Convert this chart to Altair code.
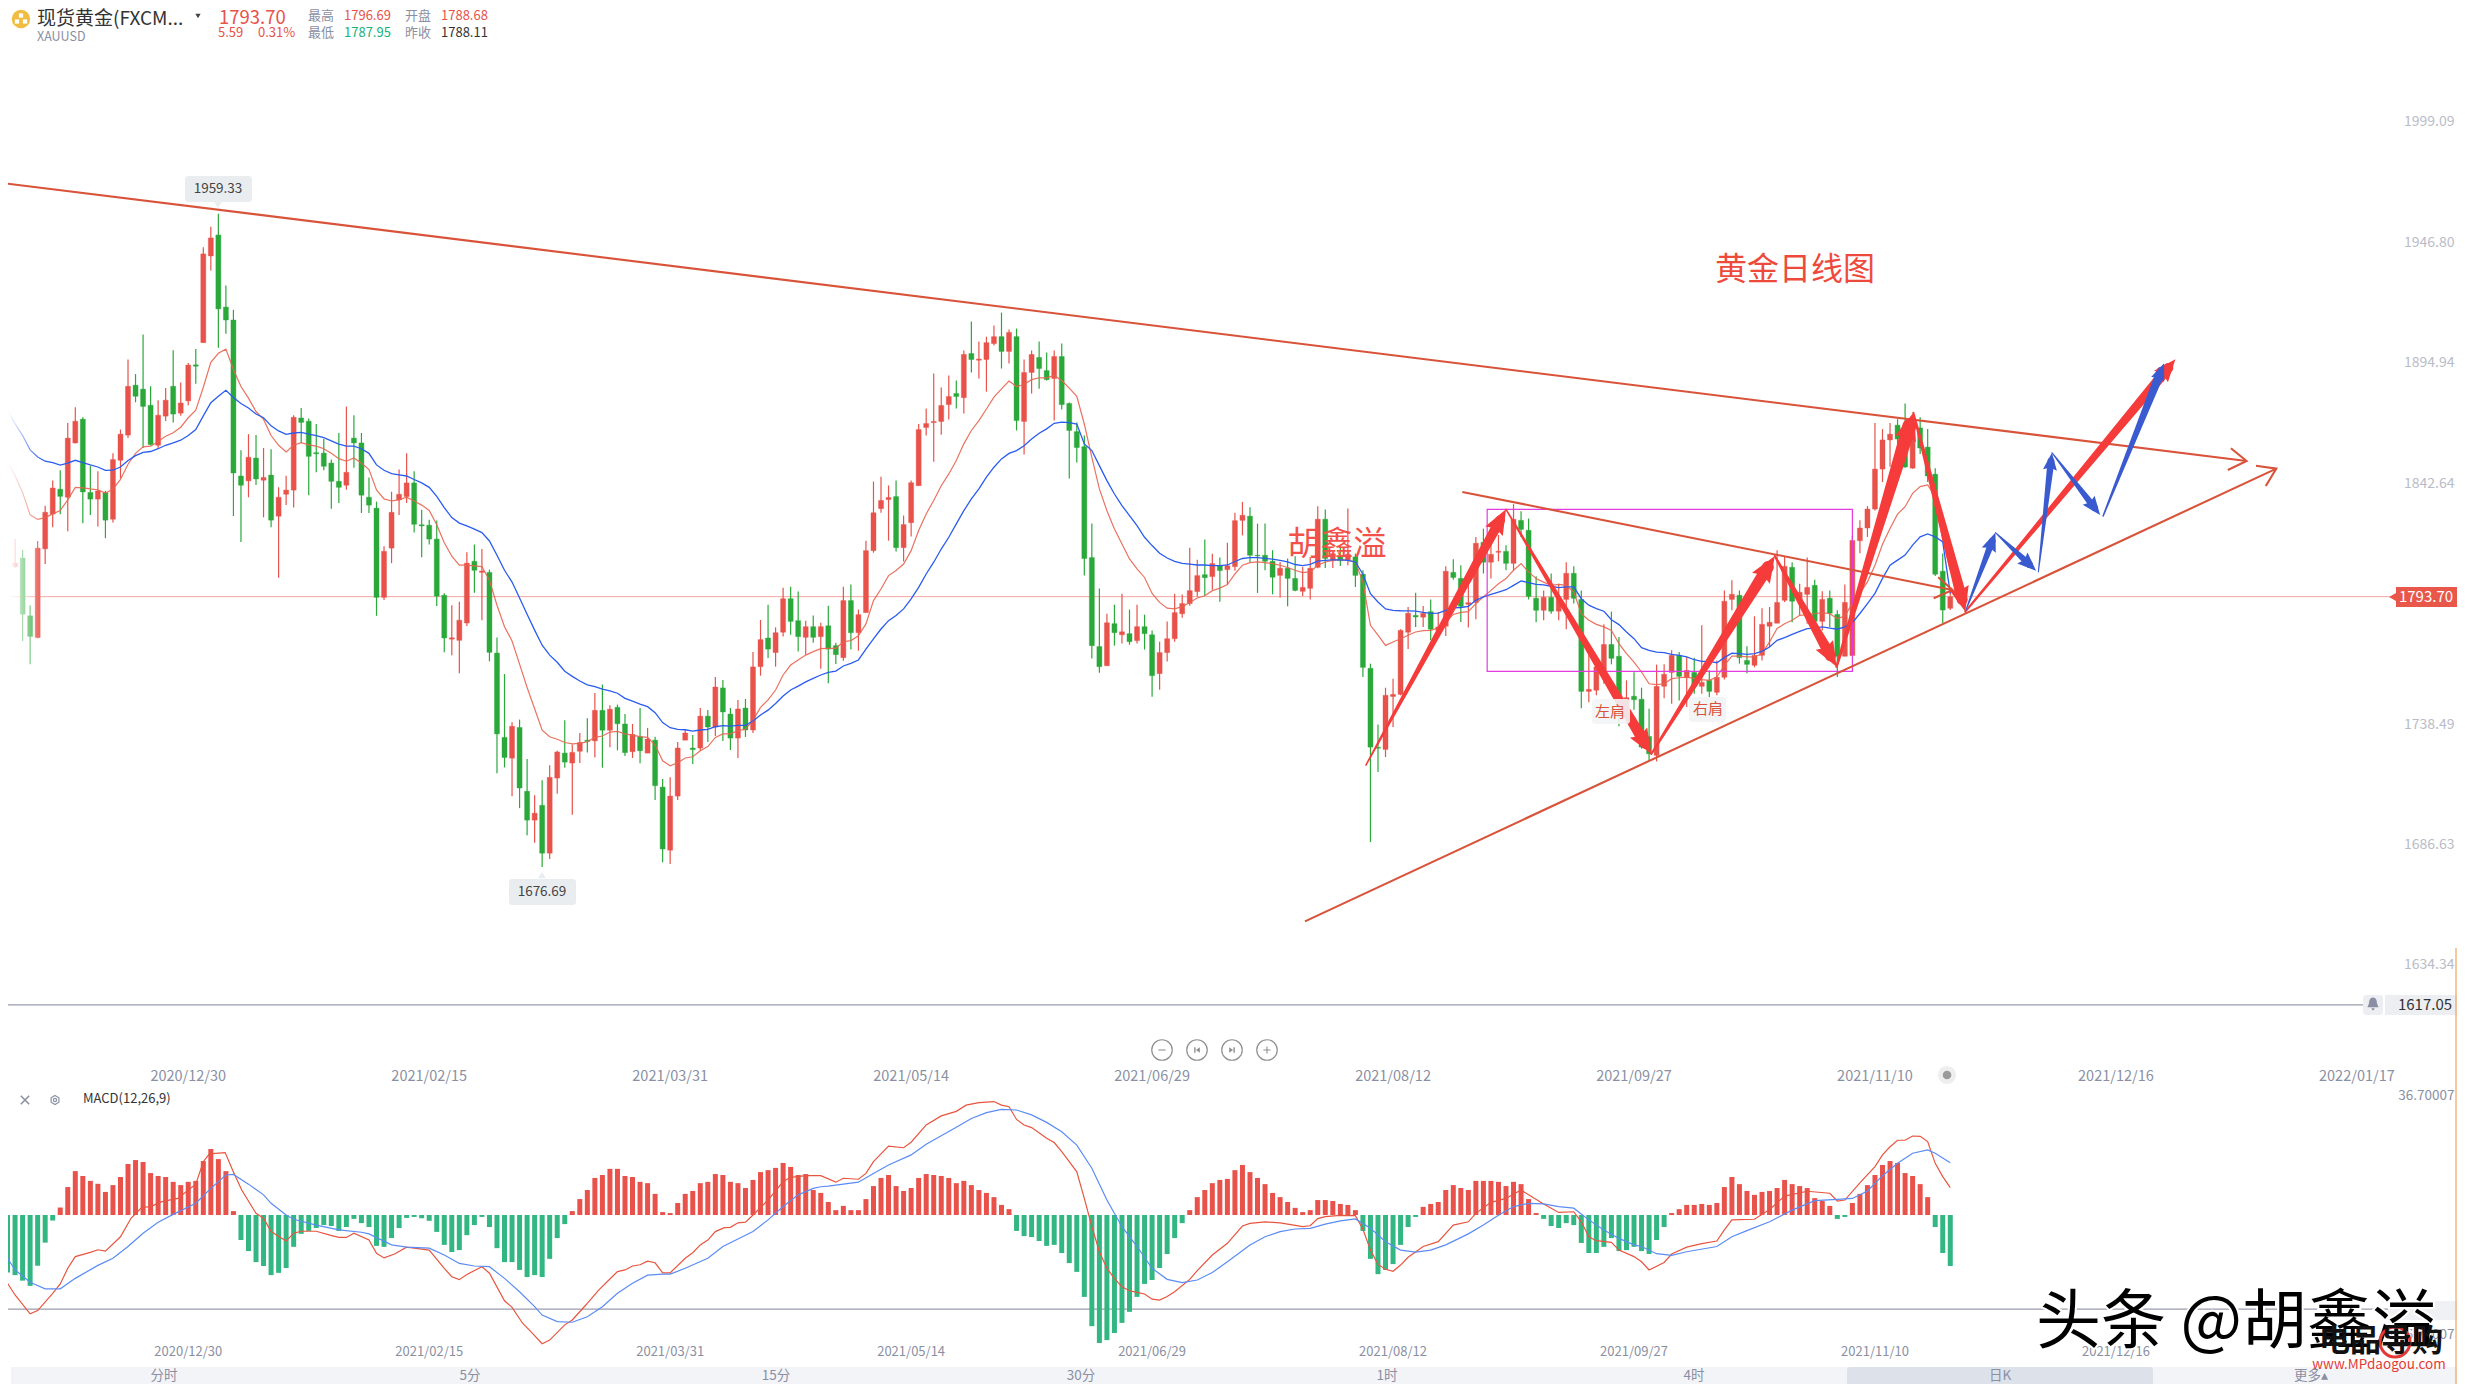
import altair as alt
import pandas as pd
import math

# ---------- candles ----------
direction = ("GGRGGRRRGR" "RGGRGRRRGG" "GRRGRRGRRG" "GGGRGRGRRR" "GGGGGGRGGG" "GRRRRGGGGG" "RRRGRGGGRG"
             "GRGRRGRRGR" "GRGGRGRGGR" "RRGRGRGGRG" "RRGRRGGRGR" "GGRGRRRRRG" "RRRRRRRGRG" "RRRGRGRRGG"
             "RGGGGGGRGR" "GRGGRRRRRR" "GRGRRRGGGG" "RGGRRRGRGR" "GGGGRRRRGR" "GRRGGRRGRR" "GRGGGRGRRG"
             "GRRRGGRGGG" "RRRGRGRGRR" "RGGRRRRRGR" "RGRGGRRRRR" "RRGGRGGGGR")
body_top = [
1836.7,1807.2,1808.2,1810.4,1785.4,1814.7,1830.2,1840.7,1840.2,1862.3,
1869.6,1870.5,1838.8,1839.4,1838.7,1853,1864,1884.7,1885.2,1883.5,
1876.5,1872.2,1878.7,1884.7,1877.5,1893.9,1894.0,1942,1948.9,1950.2,
1919,1913.4,1845.9,1854,1853.7,1845.3,1846.3,1836.7,1839.8,1871.3,
1871,1869.6,1856,1855.8,1851.5,1843.6,1847.5,1862.3,1860.2,1836.7,
1832,1813.3,1830.2,1838,1842.9,1842.9,1824.8,1824.6,1818.6,1794.3,
1775.9,1783.5,1808.2,1809,1804.8,1804.2,1769.3,1732.8,1737.6,1737.1,
1709.5,1700,1703.4,1715.5,1726.5,1726,1726.3,1730.6,1731.6,1744.5,
1744.5,1745,1745.8,1738.6,1734.1,1733.1,1732.1,1731.6,1711.3,1707.4,
1728.2,1734.7,1728.2,1742,1742,1754.6,1754.2,1742.9,1745.1,1745.5,
1763.3,1775.1,1775.8,1778.1,1792.8,1792.8,1783.3,1780.7,1780.7,1780.7,
1781.1,1772.5,1792,1792,1785.9,1813.6,1830,1835.3,1836.6,1837,
1824.9,1843,1866,1868.6,1869.5,1876.4,1880.3,1881.6,1898.5,1898.9,
1896.5,1903.6,1906.2,1906.2,1908,1906.2,1890.7,1898.5,1897.2,1891.5,
1897.6,1897.6,1877.3,1865.1,1858.6,1810.6,1772.1,1782.4,1782,1778.5,
1777.7,1780.7,1780.7,1777.2,1769.5,1775.5,1786.8,1790.7,1796.3,1802.8,
1803.2,1808,1807.1,1807.1,1826.6,1828.9,1828.5,1811.6,1811.6,1809,
1806,1806,1801.6,1797.7,1806,1827.2,1827.2,1812.3,1811.3,1812,
1810.9,1803.4,1762.7,1728.5,1751,1751.4,1779.1,1786.5,1785.6,1786.5,
1787.2,1780.6,1804.7,1804.2,1801.6,1791.1,1816.8,1817.2,1812,1813.3,
1813.3,1827.2,1826.7,1822.4,1793,1793.4,1793.4,1793,1803.8,1803.8,
1792.5,1753.6,1763.3,1773,1773,1767.9,1750,1750.6,1749.3,1733.2,
1754.9,1760.1,1768.3,1768.3,1761.8,1760.9,1756.6,1757.5,1758.8,1791.7,
1794.7,1794.3,1766.1,1768.3,1781.7,1782.6,1791.2,1806.8,1806.4,1795.6,
1797.7,1798.6,1792.5,1793,1786,1791.2,1818,1823.4,1831.6,1848.9,
1861.5,1864,1867.9,1864.4,1866.5,1866.7,1858.4,1846.7,1804.7,1793.7]
body_bottom = [
1807,1806.8,1806.7,1786.1,1776.5,1776,1814.4,1829.4,1837.1,1836.7,
1860.2,1839,1835.9,1835.9,1826.8,1827.2,1852.7,1863.6,1880.4,1876,
1859.5,1859.2,1871.8,1872.7,1873.1,1878.4,1893.4,1903.6,1941.1,1918.2,
1913.4,1847.2,1841.9,1843.8,1844.6,1844.1,1826.8,1828.5,1838,1839.8,
1869.1,1854.4,1855.5,1850.1,1843.6,1841,1841.9,1860.2,1837.6,1833.3,
1793.4,1793.4,1814.7,1835.6,1837,1825,1824.3,1818.6,1793.9,1775.8,
1775.3,1774.8,1782.3,1805.1,1804.2,1769.6,1734.3,1724.1,1723.8,1710.9,
1697,1697,1682.7,1682.7,1715.2,1722.1,1721.7,1726.8,1731,1731.3,
1735.9,1735.9,1738.7,1726.2,1726.6,1727,1726,1711.9,1684.5,1684,
1707.4,1731.6,1727.5,1728.2,1737.3,1737.3,1743.8,1732.5,1732.5,1736,
1736,1763.4,1771,1769.5,1778.3,1783,1776.4,1776.1,1776.1,1776.4,
1771,1768.6,1767.3,1778.1,1778.1,1786.8,1813.6,1831.8,1835.7,1814.9,
1814.9,1825.7,1841.7,1866.9,1869,1869.5,1876.8,1880.3,1879.8,1896.3,
1896,1896.3,1903.2,1899.8,1899.8,1869.9,1869.5,1890.7,1892.4,1887.6,
1888.1,1876.8,1865.6,1858.2,1810.2,1772.5,1763.4,1763.8,1778.1,1777.2,
1774.2,1774.7,1777.7,1759.5,1760.4,1769.5,1775.5,1786.3,1790.7,1795.9,
1801.9,1802.4,1805,1805.4,1806.7,1826.7,1811.6,1811.3,1809,1802.1,
1802.9,1801.6,1796.4,1796,1797.3,1806.4,1810.2,1809.4,1809.3,1809.4,
1802.9,1763.1,1728.6,1728.1,1727.6,1750.5,1751.4,1778.3,1784.9,1784.8,
1779.6,1779.1,1780.9,1802,1789.5,1790.4,1791.2,1808.6,1808.6,1812.9,
1808.1,1808.1,1822.8,1793.8,1787.8,1787.8,1787.4,1787.4,1792.5,1793,
1752.7,1752.7,1753.2,1761.8,1767,1748.8,1743,1749.1,1728.6,1725.7,
1725,1754.9,1760.9,1759.2,1758.6,1754.9,1754.9,1752.7,1752.3,1758.8,
1792.5,1767.3,1764.4,1764,1768.3,1780.9,1782.2,1792.1,1791.7,1792.1,
1794.7,1783,1783,1786.5,1767.9,1767.9,1768.2,1817.9,1823.4,1831.6,
1848.9,1861.5,1861.9,1849.8,1849.3,1858,1845.9,1803.4,1787.9,1788.68]
high = [
1838,1817.8,1818.6,1814,1790,1817.8,1833,1844,1848.4,1868.8,
1875.6,1871.3,1850.3,1848,1839.5,1855.7,1866,1896.3,1890,1907.1,
1884.7,1878.7,1884,1900.3,1886.4,1894.8,1900.8,1944.9,1953.8,1959.33,
1928.3,1917.8,1857,1864,1863.6,1858,1857.5,1841,1846,1872.2,
1875.3,1870.8,1868.4,1861.9,1853,1864.5,1876,1872.2,1864.5,1845.3,
1834.8,1815.5,1839.1,1848.7,1855.7,1848,1831.3,1827,1826.6,1795.2,
1790,1791.5,1812.9,1816.3,1814.3,1805.4,1776,1760.2,1739.3,1740.5,
1723.5,1707.8,1714.3,1720.7,1727,1740.2,1729.7,1734.7,1741.1,1752,
1755.7,1746.7,1747,1742.9,1738.6,1745.5,1736.9,1733.1,1714.8,1715.6,
1730.8,1736,1733.8,1745.5,1744.6,1758.9,1757.6,1745.5,1749,1749.4,
1769.7,1783.6,1790.2,1780.4,1797.6,1798,1795.9,1783.3,1785.5,1782.4,
1789.8,1773.8,1798,1798.9,1788.1,1817.9,1843.5,1845.6,1841.8,1843.9,
1828.8,1843.9,1868.4,1875.1,1890.2,1884.2,1889.4,1887.2,1900.2,1912.7,
1904.1,1906.2,1911,1916.6,1909.3,1909.7,1896.3,1900.2,1904.1,1899.3,
1900.2,1903.2,1877.7,1869,1863.4,1825.3,1797.2,1786.3,1790.2,1795,
1788.1,1790.2,1785.9,1779,1774.2,1782.9,1795,1794.6,1814.9,1809.7,
1818.4,1812.3,1810.6,1817,1830,1834.7,1832.4,1825.3,1825.3,1813.8,
1808.7,1810.2,1811.2,1806.5,1810.9,1832.8,1831.4,1813.8,1816,1831.8,
1812.3,1805.1,1764.7,1738.4,1754.3,1758.2,1779.6,1789.2,1795.4,1789.7,
1792.5,1787,1806.8,1809.9,1807.3,1802.2,1819.5,1823.1,1820.3,1820.4,
1815.9,1833.7,1830.6,1827.5,1802.5,1796.4,1803.7,1799.3,1808.6,1806.8,
1796.4,1768.3,1766.9,1781.7,1787.2,1776.2,1757.5,1761,1754.3,1745.2,
1764.3,1764.4,1770.5,1769.7,1767.6,1767.3,1781.3,1761.8,1766.1,1796.4,
1800.8,1796.4,1772.2,1785.2,1788.7,1789.2,1813.8,1810.9,1808.6,1799.3,
1810.6,1801,1796,1796.4,1787.8,1799,1820,1826.8,1832.9,1868.8,
1866.2,1868.8,1870.5,1877.3,1872,1871.3,1866.2,1849.3,1812.4,1796.69]
low = [
1805,1802,1806.2,1774.5,1764.5,1775.7,1807.8,1823.7,1829.4,1822,
1860,1825.5,1829,1824,1819,1825.8,1844.9,1862.3,1877.8,1858,
1859.2,1857.7,1869.7,1869.1,1872,1876.5,1885.8,1903.4,1934.8,1901.4,
1907.4,1828.6,1817.3,1836.7,1842,1828,1823.7,1801.9,1833.3,1832.3,
1860.3,1837.6,1847.5,1848.4,1831.7,1834.2,1840,1849.5,1829.9,1829.9,
1785.4,1792.3,1808.2,1829,1834.2,1821.5,1810.7,1816.3,1789.7,1769.6,
1768.3,1760.6,1781,1795.4,1783.5,1765.7,1717.3,1719.8,1707.3,1702.2,
1690.5,1687.2,1676.7,1680.2,1708.4,1719.7,1699.3,1721.7,1726.3,1724.1,
1719.7,1728.5,1727.2,1724.7,1723.9,1721.6,1726,1705.7,1678.8,1678,
1705.7,1731.6,1721.3,1726.9,1730.8,1733.4,1731.2,1727.3,1723.9,1733,
1734.7,1759.5,1767.2,1763.4,1776.4,1777.2,1770,1768.6,1773.8,1762.5,
1756.2,1764.6,1766,1770.8,1770.3,1786.8,1812.7,1830,1817.9,1813.2,
1808.9,1819.7,1841.7,1863.4,1852.1,1863.8,1870.3,1875.1,1872.9,1890.7,
1888.1,1882.4,1902.4,1892.4,1894.6,1865.6,1855.2,1881.6,1883.7,1887.2,
1869.9,1874.7,1844.8,1851.7,1802.8,1766.9,1760.8,1763.8,1772.5,1773.4,
1772.9,1773.4,1770.8,1750.4,1753.4,1765.6,1774.2,1784.6,1789.8,1793.7,
1794.1,1796.7,1791.5,1798.9,1804.9,1820.2,1808.7,1795.3,1805.1,1794.7,
1793.3,1789.5,1796,1794,1792.5,1806,1806.1,1806.1,1807,1807.3,
1797.9,1758.9,1687.5,1717.8,1724.3,1737.3,1751,1771,1780.6,1780.6,
1774.8,1776,1776.7,1801,1782.7,1780.3,1783.9,1803.7,1801.5,1809,
1805.1,1805.1,1819.5,1792.5,1782.6,1783.5,1786.3,1783.5,1779.6,1790.7,
1745.4,1748,1751,1756,1764.4,1737.6,1742,1744.8,1727.9,1722.6,
1722.4,1749.7,1747.4,1748.8,1745.9,1751.7,1751.7,1750.3,1751,1757.9,
1787.8,1764.7,1760.5,1763.1,1766.1,1771.9,1782.2,1791.4,1782.6,1785.6,
1782,1780.6,1779.1,1780.6,1758.9,1767.9,1768,1812.5,1819.5,1831,
1843.3,1849.9,1857.1,1849.5,1849,1855.4,1843.3,1802.6,1782.2,1787.95]

# ---------- moving averages ----------
ma_red = [
1863.9,1852,1846,1838.7,1829.1,1827.1,1827.9,1829.5,1831,1835.6,
1841,1840.8,1840.3,1839.9,1838.5,1840.2,1844.4,1851,1855.7,1858.5,
1858.8,1860.8,1863.1,1864.6,1867,1871.1,1874.4,1884.3,1895.1,1899,
1900.8,1892,1884.6,1879.6,1873.8,1870.4,1863.4,1859.2,1856.3,1859.2,
1860.3,1859.4,1858.8,1857.7,1855.7,1853.4,1852.3,1853.7,1851.5,1848.7,
1839.9,1836,1835.1,1835.6,1836.7,1835.1,1833.3,1831,1824.8,1817,
1811.2,1807.3,1807.3,1807,1806.7,1800.8,1790,1780.7,1774.5,1764.5,
1754.4,1745.2,1735.9,1733.1,1732,1730.6,1730,1730.2,1730.9,1732.8,
1733.4,1735.1,1735.4,1734.3,1733.8,1733.1,1732.8,1729.5,1722.7,1720.5,
1721.8,1723.9,1724.4,1727,1728.8,1732.8,1734.3,1734.3,1735.7,1736.3,
1740.3,1745.8,1749,1753.3,1759.8,1764.1,1766.3,1768.4,1769.9,1771.2,
1771.3,1771.3,1774.2,1774.7,1776.8,1781.9,1792,1797,1802.8,1805,
1807.8,1813.6,1822.3,1829.5,1835.3,1841.7,1846.8,1852.6,1859.8,1865.6,
1869.9,1874.9,1880,1883.6,1887,1884.6,1885.5,1887.6,1888.4,1888.4,
1889.4,1887.2,1883.9,1880.4,1868.4,1854,1840.3,1830.9,1823,1816.5,
1810,1805.7,1802,1795.1,1791.2,1788.7,1788.4,1789.4,1791.2,1793.1,
1794.1,1796.3,1797.4,1798.9,1803.5,1807.3,1808.4,1808.7,1808.4,1808,
1807.3,1806.3,1805.1,1804.1,1804.4,1807.3,1808.7,1809.4,1809.7,1809.4,
1808.7,1800,1781.3,1777,1772.6,1774.1,1775.5,1777,1778.4,1779,
1779.1,1780.1,1782.7,1786,1786.9,1787.2,1790.7,1793.6,1796.4,1799.3,
1801.5,1805.1,1808,1804.4,1801.5,1800,1798.6,1799,1798.6,1795.7,
1786.3,1783.5,1781.7,1780.6,1779.1,1773.4,1769,1765.4,1761.1,1756,
1755.6,1756,1758.2,1758.6,1758.9,1758.3,1757.8,1757.5,1758.9,1764,
1768,1768,1767.6,1767.6,1769,1774.1,1779.9,1782,1783.5,1785.6,
1785.9,1786.3,1786.8,1786.3,1784.2,1785.3,1790.8,1795.1,1800.1,1807.3,
1816.4,1823.2,1829.4,1832.6,1838.4,1841.3,1842,1836.9,1818,1805]
ma_blue = [
1879.9,1874.2,1868.5,1863.4,1857.2,1854.1,1852.3,1851.7,1850.6,1851.5,
1852.7,1851.7,1850.7,1849.8,1848.3,1848.4,1849.8,1852.6,1854.7,1856.1,
1856.5,1857.7,1859.2,1860.2,1861.4,1863.4,1866,1871.9,1877.6,1880.4,
1883,1879.9,1877.3,1875.3,1872.7,1871.1,1867.6,1865.4,1863.9,1864.5,
1864.8,1864,1863.4,1862.5,1861.1,1859.7,1858.8,1858.8,1857.7,1855.7,
1850.7,1848.4,1846.9,1846.4,1845.9,1844.4,1842.9,1841,1837.1,1832.2,
1827.9,1825.5,1824.3,1822.9,1821.4,1817.8,1811.6,1805.1,1800,1793.1,
1786.1,1779.2,1772.7,1768.4,1765.3,1761.4,1759.2,1757.2,1755.5,1754.8,
1753.7,1752.9,1751.9,1749.7,1748.5,1747.2,1746.1,1743.5,1739.2,1737,
1736.3,1736.1,1735.5,1736,1736.3,1737.4,1737.9,1737.7,1738,1738,
1739.9,1742.5,1744.6,1747.5,1750.7,1753.3,1755,1756.8,1758.3,1759.8,
1760.9,1761.5,1763.7,1764.8,1766.3,1771,1775.4,1779.7,1783.3,1785.5,
1788.4,1792.7,1797.7,1803.5,1808.6,1814.3,1819.4,1825.2,1830.9,1836,
1840.3,1845.4,1849.7,1853.3,1855.7,1856.9,1859,1861.9,1864.4,1866.3,
1868.7,1869.2,1869,1868.4,1859.8,1856.9,1850.4,1843.9,1838.1,1833.1,
1828.8,1824.4,1819.4,1815.8,1812.5,1810.4,1809,1808.1,1807.8,1807.4,
1807.4,1807.1,1807.1,1807.4,1808.9,1810.2,1810.6,1810.6,1810.3,1809.9,
1809.4,1808.7,1807.6,1807.1,1807.7,1809.1,1809.4,1809.6,1809.6,1809.4,
1808.7,1803.4,1795,1791.4,1788.4,1787.8,1787.6,1787.5,1787.4,1786.9,
1786.5,1786.6,1787.8,1788.9,1789,1789.5,1792.1,1793.6,1794.7,1795.7,
1796.7,1798.6,1800.5,1799.8,1799,1798.8,1798.2,1797.6,1797.9,1797.9,
1792.8,1790,1788.5,1787.4,1783.7,1781.6,1778.4,1775.5,1771.6,1770.5,
1769.7,1769.5,1768.7,1768.3,1767.6,1766.4,1765.7,1765.7,1765.1,1767.3,
1769.2,1769,1768.7,1769,1770,1771.9,1774.8,1776,1777.4,1778.7,
1779.9,1780.1,1780.6,1780.1,1779.6,1780.6,1782.4,1786.4,1790.7,1795.1,
1801.6,1807.3,1809.5,1811.7,1816,1819.6,1820.8,1819.6,1817.4,1795.1]

# ---------- MACD ----------
macd_hist = [
-14.9,-17.7,-18.5,-20.2,-21.8,-15.6,-8.5,-1.7,2.3,8.6,
13.5,12,10.5,9.6,7.1,9.2,11.7,15.7,16.9,16.3,
12.9,12,11.7,10.2,9.2,10.2,10.5,16.6,20.3,17.2,
13.5,1.2,-7.7,-11.1,-14.5,-15.7,-18.5,-17.8,-16.3,-9.8,
-5.8,-4.9,-4,-3.1,-3.4,-4.9,-3.7,-1.2,-2.5,-3.7,
-9.5,-9.8,-7.1,-4,-0.9,-0.6,-1,-1.8,-5.2,-9.2,
-11.4,-10.8,-6.2,-3.1,-0.6,-3.7,-10.2,-14.5,-14.5,-16.9,
-19.1,-18.5,-19.1,-13.5,-7.1,-2.8,1.2,4.9,7.7,11.4,
12.3,14.2,14.2,12,11.7,10.2,9.8,6.5,0.9,0.6,
3.7,6.5,7.4,9.8,10.2,12.6,12.3,10.2,9.8,8.3,
10.8,13.2,13.8,14.5,16,14.8,12.3,12.6,7.7,6.8,
4,1.5,2.8,1.5,1.5,4.9,8.9,11.4,12.3,8.9,
7.4,8.3,11.4,12.6,12.3,12,11.4,9.8,10.5,9.2,
7.7,6.8,5.5,3.1,1.8,-4.9,-6.5,-6.8,-8,-9.5,
-9.2,-11.7,-14.8,-17.5,-25.2,-34.2,-39.4,-38.5,-36.3,-33.2,
-29.8,-25.2,-21.2,-20,-16.3,-12,-7.1,-2.5,1.5,5.5,
7.7,9.8,10.8,11.1,13.8,15.4,13.2,11.4,9.5,6.8,
5.5,4,2.2,0.9,1.5,4.6,4.6,4.3,3.4,3.1,
1.5,-4.9,-13.5,-18.2,-16.9,-15.1,-9.2,-3.7,-0.6,2.5,
3.4,4,7.7,9.2,8.3,7.7,10.5,10.5,10.5,10.2,
8.9,10.2,9.5,4.9,0.6,-1.2,-3.4,-4,-2.5,-3.1,
-8.6,-11.7,-11.7,-9.8,-7.1,-11.1,-10.8,-9.8,-11.1,-12,
-7.7,-3.7,0.6,1.8,3.1,3.1,3.4,3.1,3.7,8.6,
11.7,9.5,7.4,6.2,7.1,7.4,8.3,10.8,9.5,8.9,
8.3,5.2,4.3,2.8,-1.2,-0.6,3.7,6.5,9.2,12.3,
15.4,16.6,16,12.9,12,9.5,5.5,-3.7,-11.7,-15.7]
dif_i = [0,1,2,4,5,7,8,9,10,12,13,14,16,17.4,18.8,20,21.5,23.6,26,27,27.8,29.9,30.9,32.1,34,35,36,38,39,40,42,43.8,45,46,47,49,50,51,52.4,54,57,59,60,61,62,64,65,67,68,69.4,70.5,72,73,75,76,77.8,79.5,81.3,82,83,84,85,86,87,88,89,91,92,93,94,95,96.2,97,98,99,100,102,104,105,107,109,
         111,112,114,115,116,118,120,121,123,125,127,128.3,130,132,133,134,135,136,137,139,140,141,142,143,144,145,146,147,148,149,150,151,152,153,154,155,156,158,159,161,163,165,166,168,170,171,173,174,175,176,178,180,181,182,183,184,185,186,187,189,191,193,195,196,198,200,202,203,205,207,209,210,211,212,214,215,217,
         218,219,221,222,224,226,228,229,230,233,235,237,240,243,244,245,247,249,250,251,252,253,254,255,256,257,258,259]
dif_v = [-17.4,-21,-24.6,-30.4,-29.4,-24.1,-21.2,-16.4,-12.8,-11.5,-10.7,-11.1,-6.7,-1,2.3,2.6,4.1,5.1,9.5,16.4,18.8,19.2,13.8,7.7,0.5,-1,-5.1,-8,-5.6,-5,-5,-6.2,-6.9,-6.9,-5.6,-7.7,-11.8,-13.2,-12,-9.9,-10.8,-16.4,-19,-19.9,-18.3,-15.9,-17.9,-26.4,-28.4,-33.3,-35.9,-39.6,-38.5,-33.8,-32.3,-27.7,-23.1,-19,-17.4,-16.9,-15.7,-15.3,-14.2,-14.7,-17.8,-17.8,-13.3,-11.6,-9.2,-7.7,-5.1,-3.9,-3.8,-2.4,-2.2,0,4.6,10.3,11.6,12.1,12.1,
         10.1,11.3,11,12.8,16.4,21.2,20.7,22.4,27.7,30.5,31.9,33.8,34.6,34.9,33.8,33.3,29.4,27.7,26.9,23.6,22.3,19.5,16.4,13.3,5.1,-3.6,-11.3,-16.4,-19.5,-22.1,-23.3,-23.8,-24.3,-25.9,-26.2,-25.1,-23.6,-19.8,-17.1,-12.3,-8.7,-3.4,-2.6,-2.1,-2.4,-2.8,-3.6,-3.3,-1.1,-0.5,-0.1,-0.2,-4.4,-10.8,-15.2,-16.7,-17.3,-15.4,-13,-9.7,-8.2,-3.1,-2.1,0.5,3.9,5.1,7.7,6.2,3.4,0.8,1,-2.1,-6.7,-7.9,-8.4,-10.8,-12.8,
         -14.4,-16.9,-14.6,-12,-9.9,-8.8,-8,-4.6,-1.5,-1.3,1.7,5.8,7.3,6.7,4.3,4.6,9.9,14.9,18.5,21,23,23,24.3,24.2,22.6,15.9,11.8,8.4]
dea_i = [0,1,2,4,6,8,10,13,15,17,19,21,23,26,28,30,31,33,35,36,38,39,42,45,48,49,52,54,57,59,61,63,65,67,69,71,72,74,76,78,80,82,84,86,88,89,91,94,96,100,102,104,106,108,109,
         110,112,114,116,118,121,123,125,127,129,131,133,135,137,139,141,143,145,147,149,151,153,155,157,159,161,163,166,168,170,172,174,176,178,180,182,184,186,188,190,192,195,197,199,201,203,205,207,209,211,213,215,217,
         218,220,222,224,228,230,232,235,238,241,244,246,248,250,252,254,256,257,259]
dea_v = [-10.3,-13.3,-16.9,-20.7,-22.7,-22.7,-19.5,-15.5,-13.3,-9.7,-5.6,-2.2,0.2,3.6,8.2,12.3,12.5,9.5,6.2,3.6,0,-1.3,-3.1,-4.6,-5.3,-5.8,-9.2,-9.9,-10.2,-12.3,-14.9,-15.7,-15.9,-19.5,-23.6,-28.2,-30.8,-32.8,-33,-31.3,-28.2,-24.1,-21,-18.5,-18.2,-18.2,-16.4,-13.3,-9.7,-5.1,-1.5,2.6,6.2,8.2,8.7,
         8.9,9.5,10.1,12.8,15.4,18.5,21.8,24.4,27,29.7,31.5,32.5,32.3,30.8,28.5,25.6,21.5,14.4,4.6,-3.6,-9.7,-16.4,-19.8,-20.8,-20,-17.7,-14.4,-9.2,-6.7,-5.1,-4.3,-4.1,-2.8,-1.8,-1.2,-4.1,-8.2,-10.8,-11.4,-10.8,-9.2,-5.8,-3.1,-0.1,2.6,3.6,3.4,2.6,2.1,-1.5,-4.6,-7.2,-9.2,
         -9.7,-11.9,-12.4,-11.3,-9.7,-6.7,-4.8,-2.1,1.5,4.4,4.8,5.1,7.4,12.1,15.9,19,20,19,16.1]

# ---------- axis and date labels ----------
price_ticks = [1999.09, 1946.80, 1894.94, 1842.64, 1738.49, 1686.63, 1634.34]
macd_ticks = [36.70007, -28.98955, -36.70007]
date_i = [25, 57, 89, 121, 153, 185, 217, 249, 281, 313]
date_top = ["2020/12/30","2021/02/15","2021/03/31","2021/05/14","2021/06/29","2021/08/12","2021/09/27","2021/11/10","2021/12/16","2022/01/17"]
date_low = date_top[:9]

# ---------- drawn annotations (bar index, price) ----------
line_id = ["a"]*2 + ["ah"]*3 + ["b"]*2 + ["bh"]*3 + ["c"]*2 + ["ch"]*3
line_i = [0, 298.35, 296.27, 298.35, 295.86, 173.3, 302.3, 299.6, 302.3, 300.9, 194.2, 259.3, 257.4, 259.3, 256.8]
line_p = [1972.8, 1852.4, 1857.9, 1852.4, 1848.5, 1653.2, 1849.1, 1850.3, 1849.1, 1841.6, 1839, 1796.6, 1802.1, 1796.6, 1793]
red_path_i = [181.4, 200, 219.3, 235.7, 243.9, 254.1, 261, 288.9]
red_path_p = [1720.8, 1831.5, 1725.6, 1811.3, 1763.4, 1873.3, 1787.2, 1896.4]
blue_from_i = [261, 265, 270.7, 272.5, 279.3]
blue_from_p = [1787.2, 1821.4, 1804.4, 1856, 1828.6]
blue_to_i = [265, 270.4, 272.5, 278.9, 287.4]
blue_to_p = [1821.4, 1804.9, 1856, 1829, 1894.7]
box_i = [197.5, 246]
box_p = [1761.4, 1831.5]
last_price = 1793.70
bottom_price = 1617.05

# ---------- frame ----------
FONT = "Noto Sans CJK SC"
W, H = 2449, 1376
GRAY = "#8a8fa3"
UP, DOWN = "#e8524a", "#2aa83a"
PX_I, PX_P = 7.53, 2.311
x_scale = alt.Scale(domain=[8 / PX_I, (W + 8) / PX_I], range=[0, W], nice=False, zero=False, padding=0)
py_scale = alt.Scale(domain=[1617.05, 2048.4], range=[996.9, 0], nice=False, zero=False, padding=0)
my_scale = alt.Scale(domain=[-50, 50], range=[1369.5, 1044.5], nice=False, zero=False, padding=0)
X = alt.X("i:Q", scale=x_scale, axis=None, title=None)
X2 = alt.X2("i2:Q")


def PY(f, axis=None):
    return alt.Y(f, type="quantitative", scale=py_scale, axis=axis, title=None)


def MY(f, axis=None):
    return alt.Y(f, type="quantitative", scale=my_scale, axis=axis, title=None)


one = pd.DataFrame({"t": [0]})


def rect(x1, y1, x2, y2, fill, radius=0, opacity=1):
    return alt.Chart(one).mark_rect(color=fill, cornerRadius=radius, opacity=opacity).encode(
        x=alt.value(x1 - 8), x2=alt.value(x2 - 8), y=alt.value(y1 - 8), y2=alt.value(y2 - 8))


def label(s, x, y, size, color, align="left", weight="normal", **kw):
    return alt.Chart(pd.DataFrame({"t": [s]})).mark_text(
        font=FONT, fontSize=size, color=color, align=align, baseline="middle", fontWeight=weight, **kw
    ).encode(x=alt.value(x - 8), y=alt.value(y - 8), text="t:N")


def sym(x, y, shape, size, fill=None, stroke=None, sw=1):
    args = dict(shape=shape, size=size, opacity=1)
    if fill:
        args.update(filled=True, color=fill)
    else:
        args.update(filled=False, color=stroke, strokeWidth=sw)
    return alt.Chart(one).mark_point(**args).encode(x=alt.value(x - 8), y=alt.value(y - 8))


# ---------- tables ----------
idx = list(range(len(high)))
candles = pd.DataFrame({"i": idx, "top": body_top, "bot": body_bottom, "high": high, "low": low, "d": list(direction)})
up = candles[candles.d == "R"]
down = candles[candles.d == "G"]
mas = pd.DataFrame({"i": idx, "r": ma_red, "b": ma_blue})
hist = pd.DataFrame({"i": idx, "v": macd_hist})

price_axis = alt.Axis(values=price_ticks, format=".2f", orient="right", domain=False, ticks=False, grid=False,
                      labelAlign="right", labelPadding=-3, labelFontSize=14, labelColor="#b9bcc8", labelFont=FONT,
                      labelOverlap=False, labelFlush=False, title=None)
macd_axis = alt.Axis(values=macd_ticks, format=".5f", orient="right", domain=False, ticks=False, grid=False,
                     labelAlign="right", labelPadding=-3, labelFontSize=13.5, labelColor=GRAY, labelFont=FONT,
                     labelOverlap=False, labelFlush=False, title=None)

layers = []
layers.append(rect(2388, 1301, 2462, 1320, "#f0f1f4"))
layers.append(alt.Chart(pd.DataFrame({"p": [-28.98955]})).mark_rule(color="#9a9cab", strokeWidth=1.2).encode(
    y=MY("p"), x=alt.value(0), x2=alt.value(2380)))

# candles
layers.append(alt.Chart(pd.DataFrame({"p": [last_price]})).mark_rule(color="#f5a6a0", strokeWidth=1).encode(
    y=PY("p"), x=alt.value(0), x2=alt.value(2385)))
layers.append(alt.Chart(pd.DataFrame({"p": [bottom_price]})).mark_rule(color="#9a9cab", strokeWidth=1.2).encode(
    y=PY("p"), x=alt.value(0), x2=alt.value(2356)))
for df, col in ((up, UP), (down, DOWN)):
    layers.append(alt.Chart(df).mark_rule(color=col, strokeWidth=1.2).encode(
        x=X, y=PY("low", price_axis if col == UP else None), y2="high:Q"))
    layers.append(alt.Chart(df).mark_bar(size=5, color=col, orient="vertical", stroke=col, strokeWidth=0.4).encode(
        x=X, y=PY("top"), y2="bot:Q"))
layers.append(alt.Chart(mas).mark_line(color="#e8634e", strokeWidth=1.2, opacity=0.9).encode(x=X, y=PY("r")))
layers.append(alt.Chart(mas).mark_line(color="#2a5cf0", strokeWidth=1.3).encode(x=X, y=PY("b")))

# left fade
fade = alt.Gradient(gradient="linear", x1=0, x2=1, y1=0, y2=0,
                    stops=[alt.GradientStop(color="#ffffff", offset=0),
                           alt.GradientStop(color="rgba(255,255,255,0)", offset=1)])
layers.append(alt.Chart(one).mark_rect(color=fade).encode(
    x=alt.value(0), x2=alt.value(36), y=alt.value(200), y2=alt.value(990)))

# macd
layers.append(alt.Chart(hist[hist.v >= 0]).mark_bar(size=5, color="#e8524a", orient="vertical").encode(
    x=X, y=MY("v", macd_axis), y2=alt.datum(0)))
layers.append(alt.Chart(hist[hist.v < 0]).mark_bar(size=5, color="#33b782", orient="vertical").encode(
    x=X, y=MY("v"), y2=alt.datum(0)))
layers.append(alt.Chart(pd.DataFrame({"i": dif_i, "v": dif_v})).mark_line(color="#e8553f", strokeWidth=1.2).encode(x=X, y=MY("v")))
layers.append(alt.Chart(pd.DataFrame({"i": dea_i, "v": dea_v})).mark_line(color="#5b8cf5", strokeWidth=1.2).encode(x=X, y=MY("v")))

# drawn box, trend lines
box = pd.DataFrame({"i": [box_i[0]], "i2": [box_i[1]], "p": [box_p[0]], "p2": [box_p[1]]})
layers.append(alt.Chart(box).mark_rect(fill=None, stroke="#e23be0", strokeWidth=1.2).encode(x=X, x2=X2, y=PY("p"), y2="p2:Q"))
lines = pd.DataFrame({"i": line_i, "p": line_p, "id": line_id, "o": range(len(line_i))})
layers.append(alt.Chart(lines).mark_line(color="#d9533a", strokeWidth=2.1).encode(
    x=X, y=PY("p"), detail="id:N", order="o:Q"))


# tapered arrows: a trail for the shaft and a rotated symbol for the head
HEAD = "M0,-1 L-0.8,1 L0,0.72 L0.8,1 Z"


def arrow(tag, a, b, w0, w1, head_w, color):
    dx, dy = (b[0] - a[0]) * PX_I, (b[1] - a[1]) * PX_P
    length = math.hypot(dx, dy)
    half = head_w * 0.625
    fr = 1 - half / length
    mx, my = a[0] + (b[0] - a[0]) * fr, a[1] + (b[1] - a[1]) * fr
    shaft = [dict(id=tag, o=0, i=a[0], p=a[1], s=w0, c=color), dict(id=tag, o=1, i=mx, p=my, s=w1, c=color)]
    tip = dict(i=mx, p=my, s=(2 * half) ** 2, ang=math.degrees(math.atan2(dx, dy)), c=color)
    return shaft, tip


shafts, tips = [], []
red_w = [(1.5, 10, 20), (1.5, 11, 20), (2, 12, 21), (2, 11, 20), (2.5, 14, 22), (2, 11, 20), (2, 10, 18)]
for k in range(7):
    s, t = arrow("r%d" % k, (red_path_i[k], red_path_p[k]), (red_path_i[k + 1], red_path_p[k + 1]), *red_w[k], "#f63b3b")
    shafts += s
    tips.append(t)
blue_w = [(1, 7, 15), (1, 7, 15), (1, 7, 14), (1, 7, 15), (1.5, 9, 14)]
for k in range(5):
    s, t = arrow("b%d" % k, (blue_from_i[k], blue_from_p[k]), (blue_to_i[k], blue_to_p[k]), *blue_w[k], "#3a5bd0")
    shafts += s
    tips.append(t)
layers.append(alt.Chart(pd.DataFrame(shafts)).mark_trail().encode(
    x=X, y=PY("p"), detail="id:N", order="o:Q",
    size=alt.Size("s:Q", scale=None, legend=None),
    color=alt.Color("c:N", scale=None, legend=None)))
layers.append(alt.Chart(pd.DataFrame(tips)).mark_point(shape=HEAD, filled=True, opacity=1).encode(
    x=X, y=PY("p"),
    size=alt.Size("s:Q", scale=None, legend=None),
    angle=alt.Angle("ang:Q", scale=None),
    color=alt.Color("c:N", scale=None, legend=None)))

# date rows
layers.append(alt.Chart(pd.DataFrame({"i": date_i, "t": date_top})).mark_text(
    font=FONT, fontSize=14.5, color=GRAY, baseline="middle").encode(x=X, y=alt.value(1077 - 8), text="t:N"))
layers.append(alt.Chart(pd.DataFrame({"i": date_i[:9], "t": date_low})).mark_text(
    font=FONT, fontSize=13, color=GRAY, baseline="middle").encode(x=X, y=alt.value(1352 - 8), text="t:N"))

# texts on the chart
layers.append(label("黄金日线图", 1795, 270, 32, "#ee4a3c", "center"))
layers.append(label("胡鑫溢", 1337, 545, 33, "#f4504a", "center"))
layers.append(rect(1592, 699, 1630, 724, "#f3f4f6", 3, 0.9))
layers.append(label("左肩", 1610, 712, 15, "#d9533a", "center"))
layers.append(rect(1689, 697, 1726, 722, "#f3f4f6", 3))
layers.append(label("右肩", 1708, 709, 15, "#d9533a", "center"))

# price tags
layers.append(rect(185, 176, 252, 202, "#eaedf0", 3))
layers.append(sym(218, 205, "triangle-down", 55, "#eaedf0"))
layers.append(label("1959.33", 218, 189, 13.5, "#444", "center"))
layers.append(rect(509, 879, 576, 905, "#eaedf0", 3))
layers.append(sym(542, 875, "triangle-up", 60, "#eaedf0"))
layers.append(label("1676.69", 542, 892, 13.5, "#444", "center"))
layers.append(rect(2396, 587, 2462, 607, "#e8574a"))
layers.append(sym(2394, 597, "triangle-left", 130, "#e8574a"))
layers.append(label("1793.70", 2426, 597, 15, "white", "center"))

# bell and floor value
layers.append(rect(2363, 995, 2383, 1015, "#eceef2", 3))
layers.append(sym(2373, 1004, "M0,-1 C-0.5,-1 -0.6,-0.5 -0.6,-0.1 L-0.85,0.5 L0.85,0.5 L0.6,-0.1 C0.6,-0.5 0.5,-1 0,-1 Z M-0.25,0.65 L0.25,0.65 L0.1,0.95 L-0.1,0.95 Z", 170, "#8a8fa3"))
layers.append(rect(2385, 995, 2462, 1015, "#eceef2"))
layers.append(label("1617.05", 2425, 1004.5, 15, "#333", "center"))

# header
layers.append(sym(21, 19, "circle", 340, "#f0bd42"))
for cx, cy in ((21, 15.5), (17, 21.5), (25, 21.5)):
    layers.append(sym(cx, cy, "square", 18, "white"))
layers.append(label("现货黄金(FXCM...", 37, 19, 19, "#333"))
layers.append(sym(198, 16, "triangle-down", 28, "#444"))
layers.append(label("XAUUSD", 37, 37, 12.5, GRAY))
layers.append(label("1793.70", 219, 18, 18.5, "#e8524a"))
layers.append(label("5.59", 218, 33, 13, "#e8524a"))
layers.append(label("0.31%", 258, 33, 13, "#e8524a"))
layers.append(label("最高", 308, 16, 13, GRAY))
layers.append(label("1796.69", 344, 16, 13, "#e8524a"))
layers.append(label("开盘", 405, 16, 13, GRAY))
layers.append(label("1788.68", 441, 16, 13, "#e8524a"))
layers.append(label("最低", 308, 33, 13, GRAY))
layers.append(label("1787.95", 344, 33, 13, "#17b27a"))
layers.append(label("昨收", 405, 33, 13, GRAY))
layers.append(label("1788.11", 441, 33, 13, "#333"))

# nav buttons
for cx in (1162, 1197, 1232, 1267):
    layers.append(sym(cx, 1050, "circle", 420, None, "#8f8f8f", 1.2))
layers.append(sym(1162, 1050, "M-0.8,-0.12H0.8V0.12H-0.8Z", 80, "#8f8f8f"))
layers.append(sym(1197, 1050, "M-0.8,-0.8H-0.4V0.8H-0.8Z M0.8,-0.8V0.8L-0.3,0Z", 50, "#8f8f8f"))
layers.append(sym(1232, 1050, "M0.8,-0.8H0.4V0.8H0.8Z M-0.8,-0.8V0.8L0.3,0Z", 50, "#8f8f8f"))
layers.append(sym(1267, 1050, "M-0.8,-0.12H-0.12V-0.8H0.12V-0.12H0.8V0.12H0.12V0.8H-0.12V0.12H-0.8Z", 80, "#8f8f8f"))
layers.append(sym(1947, 1075, "circle", 330, "#eeeeee"))
layers.append(sym(1947, 1075, "circle", 75, "#9a9a9a"))

# macd header
layers.append(sym(25, 1100, "M-1,-1 L1,1 M1,-1 L-1,1", 70, None, GRAY, 1.5))
layers.append(sym(55, 1100, "M0,-1 L0.87,-0.5 L0.87,0.5 L0,1 L-0.87,0.5 L-0.87,-0.5 Z", 80, None, GRAY, 1.2))
layers.append(sym(55, 1100, "circle", 10, None, GRAY, 1.2))
layers.append(label("MACD(12,26,9)", 83, 1098.5, 13, "#333"))

# bottom tabs
layers.append(rect(11, 1367, 2460, 1393, "#f3f4f7"))
layers.append(rect(1847, 1367, 2153, 1393, "#dde1ea", 3))
for s, cx in (("分时", 164), ("5分", 470), ("15分", 776), ("30分", 1081), ("1时", 1387), ("4时", 1694), ("日K", 2000), ("更多▴", 2311)):
    layers.append(label(s, cx, 1376, 13.5, GRAY, "center"))

# right edge
layers.append(alt.Chart(one).mark_rule(color="#f5a25a", strokeWidth=1.2).encode(
    x=alt.value(W - 1), y=alt.value(940), y2=alt.value(H)))

# watermark
for stroke_args in (dict(stroke="white", strokeWidth=4), dict()):
    layers.append(label("头条 @胡鑫溢", 2036, 1323, 65, "black", "left", **stroke_args))
layers.append(sym(2395, 1342, "circle", 900, None, "#e53935", 3))
layers.append(label("电品导购", 2381, 1342, 31, "#111", "center", "bold"))
layers.append(label("www.MPdaogou.com", 2379, 1365, 13.5, "#e53935", "center"))

chart = alt.layer(*layers).resolve_scale(y="independent").properties(
    width=W, height=H, padding=0, autosize=alt.AutoSizeParams(type="none"), background="white"
).configure_view(strokeWidth=0)

chart.save("out.html", embed_options={"renderer": "svg", "actions": False})
